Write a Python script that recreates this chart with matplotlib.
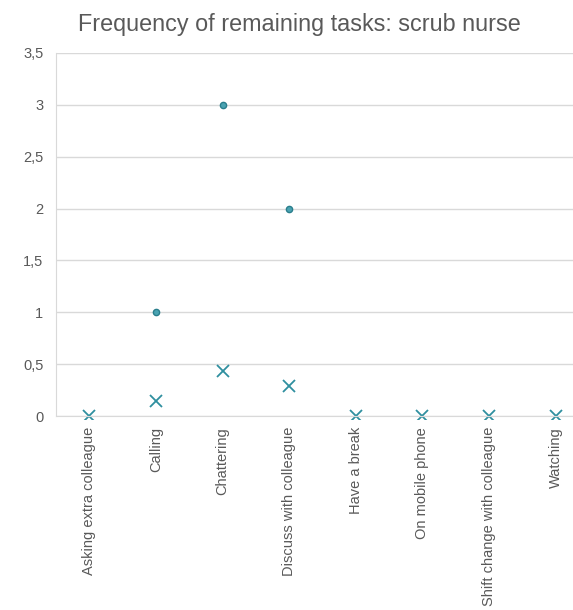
import matplotlib
matplotlib.use("Agg")
import matplotlib.pyplot as plt
import numpy as np
from matplotlib.ticker import FuncFormatter
from matplotlib.transforms import Bbox, TransformedBbox

plt.rcParams['font.family'] = ['Liberation Sans', 'DejaVu Sans']

categories = ["Asking extra colleague", "Calling", "Chattering", "Discuss with colleague",
              "Have a break", "On mobile phone", "Shift change with colleague", "Watching"]
frequency = [None, 1, 3, 2, None, None, None, None]
mean_values = [0, 0.14, 0.43, 0.29, 0, 0, 0, 0]
y_ticks = [0, 0.5, 1, 1.5, 2, 2.5, 3, 3.5]

W, H = 573, 610
fig = plt.figure(figsize=(W / 100, H / 100), dpi=100)
left, right, top, bottom = 56, 589, 53, 416
ax = fig.add_axes([left / W, 1 - bottom / H, (right - left) / W, (bottom - top) / H])

color = "#2F8F9F"
x = np.arange(len(categories))
freq = np.array([np.nan if v is None else v for v in frequency], dtype=float)
ax.plot(x, freq, linestyle='none', marker='o', markersize=4.5,
        markerfacecolor="#4AA3B2", markeredgecolor="#2A7E8C", markeredgewidth=1)
xl, = ax.plot(x, mean_values, linestyle='none', marker='x', markersize=8,
              color=color, markeredgewidth=1.3)
xl.set_clip_box(TransformedBbox(Bbox([[-0.1, -0.009], [1.1, 1.1]]), ax.transAxes))

ax.set_xlim(-0.5, len(categories) - 0.5)
ax.set_ylim(0, 3.5)
ax.set_yticks(y_ticks)
ax.yaxis.set_major_formatter(FuncFormatter(lambda v, p: f"{v:g}".replace('.', ',')))
ax.set_xticks(x)
ax.set_xticklabels(categories, rotation=90, va='top', ha='center')
ax.tick_params(axis='both', length=0, colors="#595959", labelsize=10.5)
ax.tick_params(axis='y', pad=9)
ax.tick_params(axis='x', pad=8)

ax.grid(axis='y', color="#D9D9D9", linewidth=1)
ax.set_axisbelow(True)
for s in ['top', 'right']:
    ax.spines[s].set_visible(False)
ax.spines['left'].set_color("#D9D9D9")
ax.spines['bottom'].set_color("#D9D9D9")

fig.text(299 / W, 1 - 25 / H, "Frequency of remaining tasks: scrub nurse",
         ha='center', va='center', fontsize=16.8, color="#595959")

fig.savefig("out.png", dpi=100)
